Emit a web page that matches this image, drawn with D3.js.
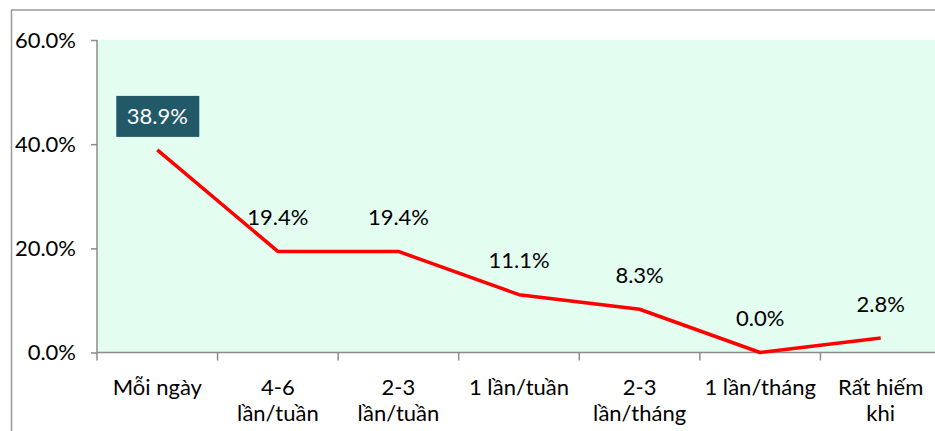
<!DOCTYPE html>
<html>
<head>
<meta charset="utf-8">
<script src="https://cdn.jsdelivr.net/npm/d3@7"></script>
<style>
  html, body { margin: 0; padding: 0; background: #fff; }
  svg { display: block; font-family: Lato, "Open Sans", sans-serif; }
</style>
</head>
<body>
<div id="chart"></div>
<script>
// Dữ liệu
const categories = [
  ["Mỗi ngày"],
  ["4-6", "lần/tuần"],
  ["2-3", "lần/tuần"],
  ["1 lần/tuần"],
  ["2-3", "lần/tháng"],
  ["1 lần/tháng"],
  ["Rất hiếm", "khi"]
];
const values = [38.9, 19.4, 19.4, 11.1, 8.3, 0.0, 2.8];
const yTicks = [0, 20, 40, 60];

const W = 935, H = 431;
const plot = { left: 97, top: 40, right: 941, bottom: 352.5 };
const fontSize = "22px";

const svg = d3.select("#chart").append("svg")
  .attr("width", W)
  .attr("height", H);

// Khung ngoài
svg.append("rect")
  .attr("x", 11.5).attr("y", 10)
  .attr("width", 960).attr("height", 460)
  .attr("fill", "none")
  .attr("stroke", "#9a9a9a")
  .attr("stroke-width", 1.5);

// Nền vùng vẽ
svg.append("rect")
  .attr("x", plot.left).attr("y", plot.top)
  .attr("width", plot.right - plot.left)
  .attr("height", plot.bottom - plot.top)
  .attr("fill", "#e3fdf0");

const x = d3.scaleBand()
  .domain(d3.range(categories.length))
  .range([plot.left, plot.right]);

const y = d3.scaleLinear()
  .domain([0, 60])
  .range([plot.bottom, plot.top]);

// Trục Y
const yAxis = svg.append("g")
  .attr("transform", `translate(${plot.left},0)`)
  .call(d3.axisLeft(y).tickValues(yTicks).tickSize(6).tickPadding(15)
    .tickFormat(d => d.toFixed(1) + "%"));
yAxis.select(".domain").attr("stroke", "#8c8c8c").attr("stroke-width", 1.5)
  .attr("d", `M0,${plot.top}V${plot.bottom}`);
yAxis.selectAll(".tick line").attr("stroke", "#8c8c8c").attr("stroke-width", 1.5);
yAxis.selectAll(".tick text")
  .attr("fill", "#000")
  .style("font-size", fontSize)
  .style("font-family", "Lato, sans-serif");

// Trục X
const xAxis = svg.append("g")
  .attr("transform", `translate(0,${plot.bottom})`);
xAxis.append("line")
  .attr("x1", plot.left).attr("x2", plot.right)
  .attr("stroke", "#8c8c8c").attr("stroke-width", 1.5);
xAxis.selectAll("line.tick")
  .data(d3.range(categories.length + 1))
  .enter().append("line")
  .attr("class", "tick")
  .attr("x1", i => plot.left + i * x.step())
  .attr("x2", i => plot.left + i * x.step())
  .attr("y1", 0).attr("y2", 8)
  .attr("stroke", "#8c8c8c").attr("stroke-width", 1.5);

const catLabels = xAxis.selectAll("text.cat")
  .data(categories)
  .enter().append("text")
  .attr("class", "cat")
  .attr("text-anchor", "middle")
  .attr("fill", "#000")
  .style("font-size", fontSize)
  .attr("transform", (d, i) => `translate(${x(i) + x.bandwidth() / 2},42)`);
catLabels.selectAll("tspan")
  .data(d => d)
  .enter().append("tspan")
  .attr("x", 0)
  .attr("dy", (d, i) => i === 0 ? 0 : 26)
  .text(d => d);

// Đường
const line = d3.line()
  .x((d, i) => x(i) + x.bandwidth() / 2)
  .y(d => y(d));

svg.append("path")
  .datum(values)
  .attr("fill", "none")
  .attr("stroke", "#ff0000")
  .attr("stroke-width", 3.5)
  .attr("stroke-linejoin", "round")
  .attr("d", line);

// Nhãn dữ liệu
const labels = svg.selectAll("g.label")
  .data(values)
  .enter().append("g")
  .attr("class", "label")
  .attr("transform", (d, i) => `translate(${x(i) + x.bandwidth() / 2},${y(d) - 34})`);

labels.filter((d, i) => i === 0).append("rect")
  .attr("x", -41).attr("y", -20)
  .attr("width", 83).attr("height", 41)
  .attr("fill", "#215968");

labels.append("text")
  .attr("text-anchor", "middle")
  .attr("dy", "0.35em")
  .attr("fill", (d, i) => i === 0 ? "#fff" : "#000")
  .style("font-size", fontSize)
  .text(d => d.toFixed(1) + "%");
</script>
</body>
</html>
